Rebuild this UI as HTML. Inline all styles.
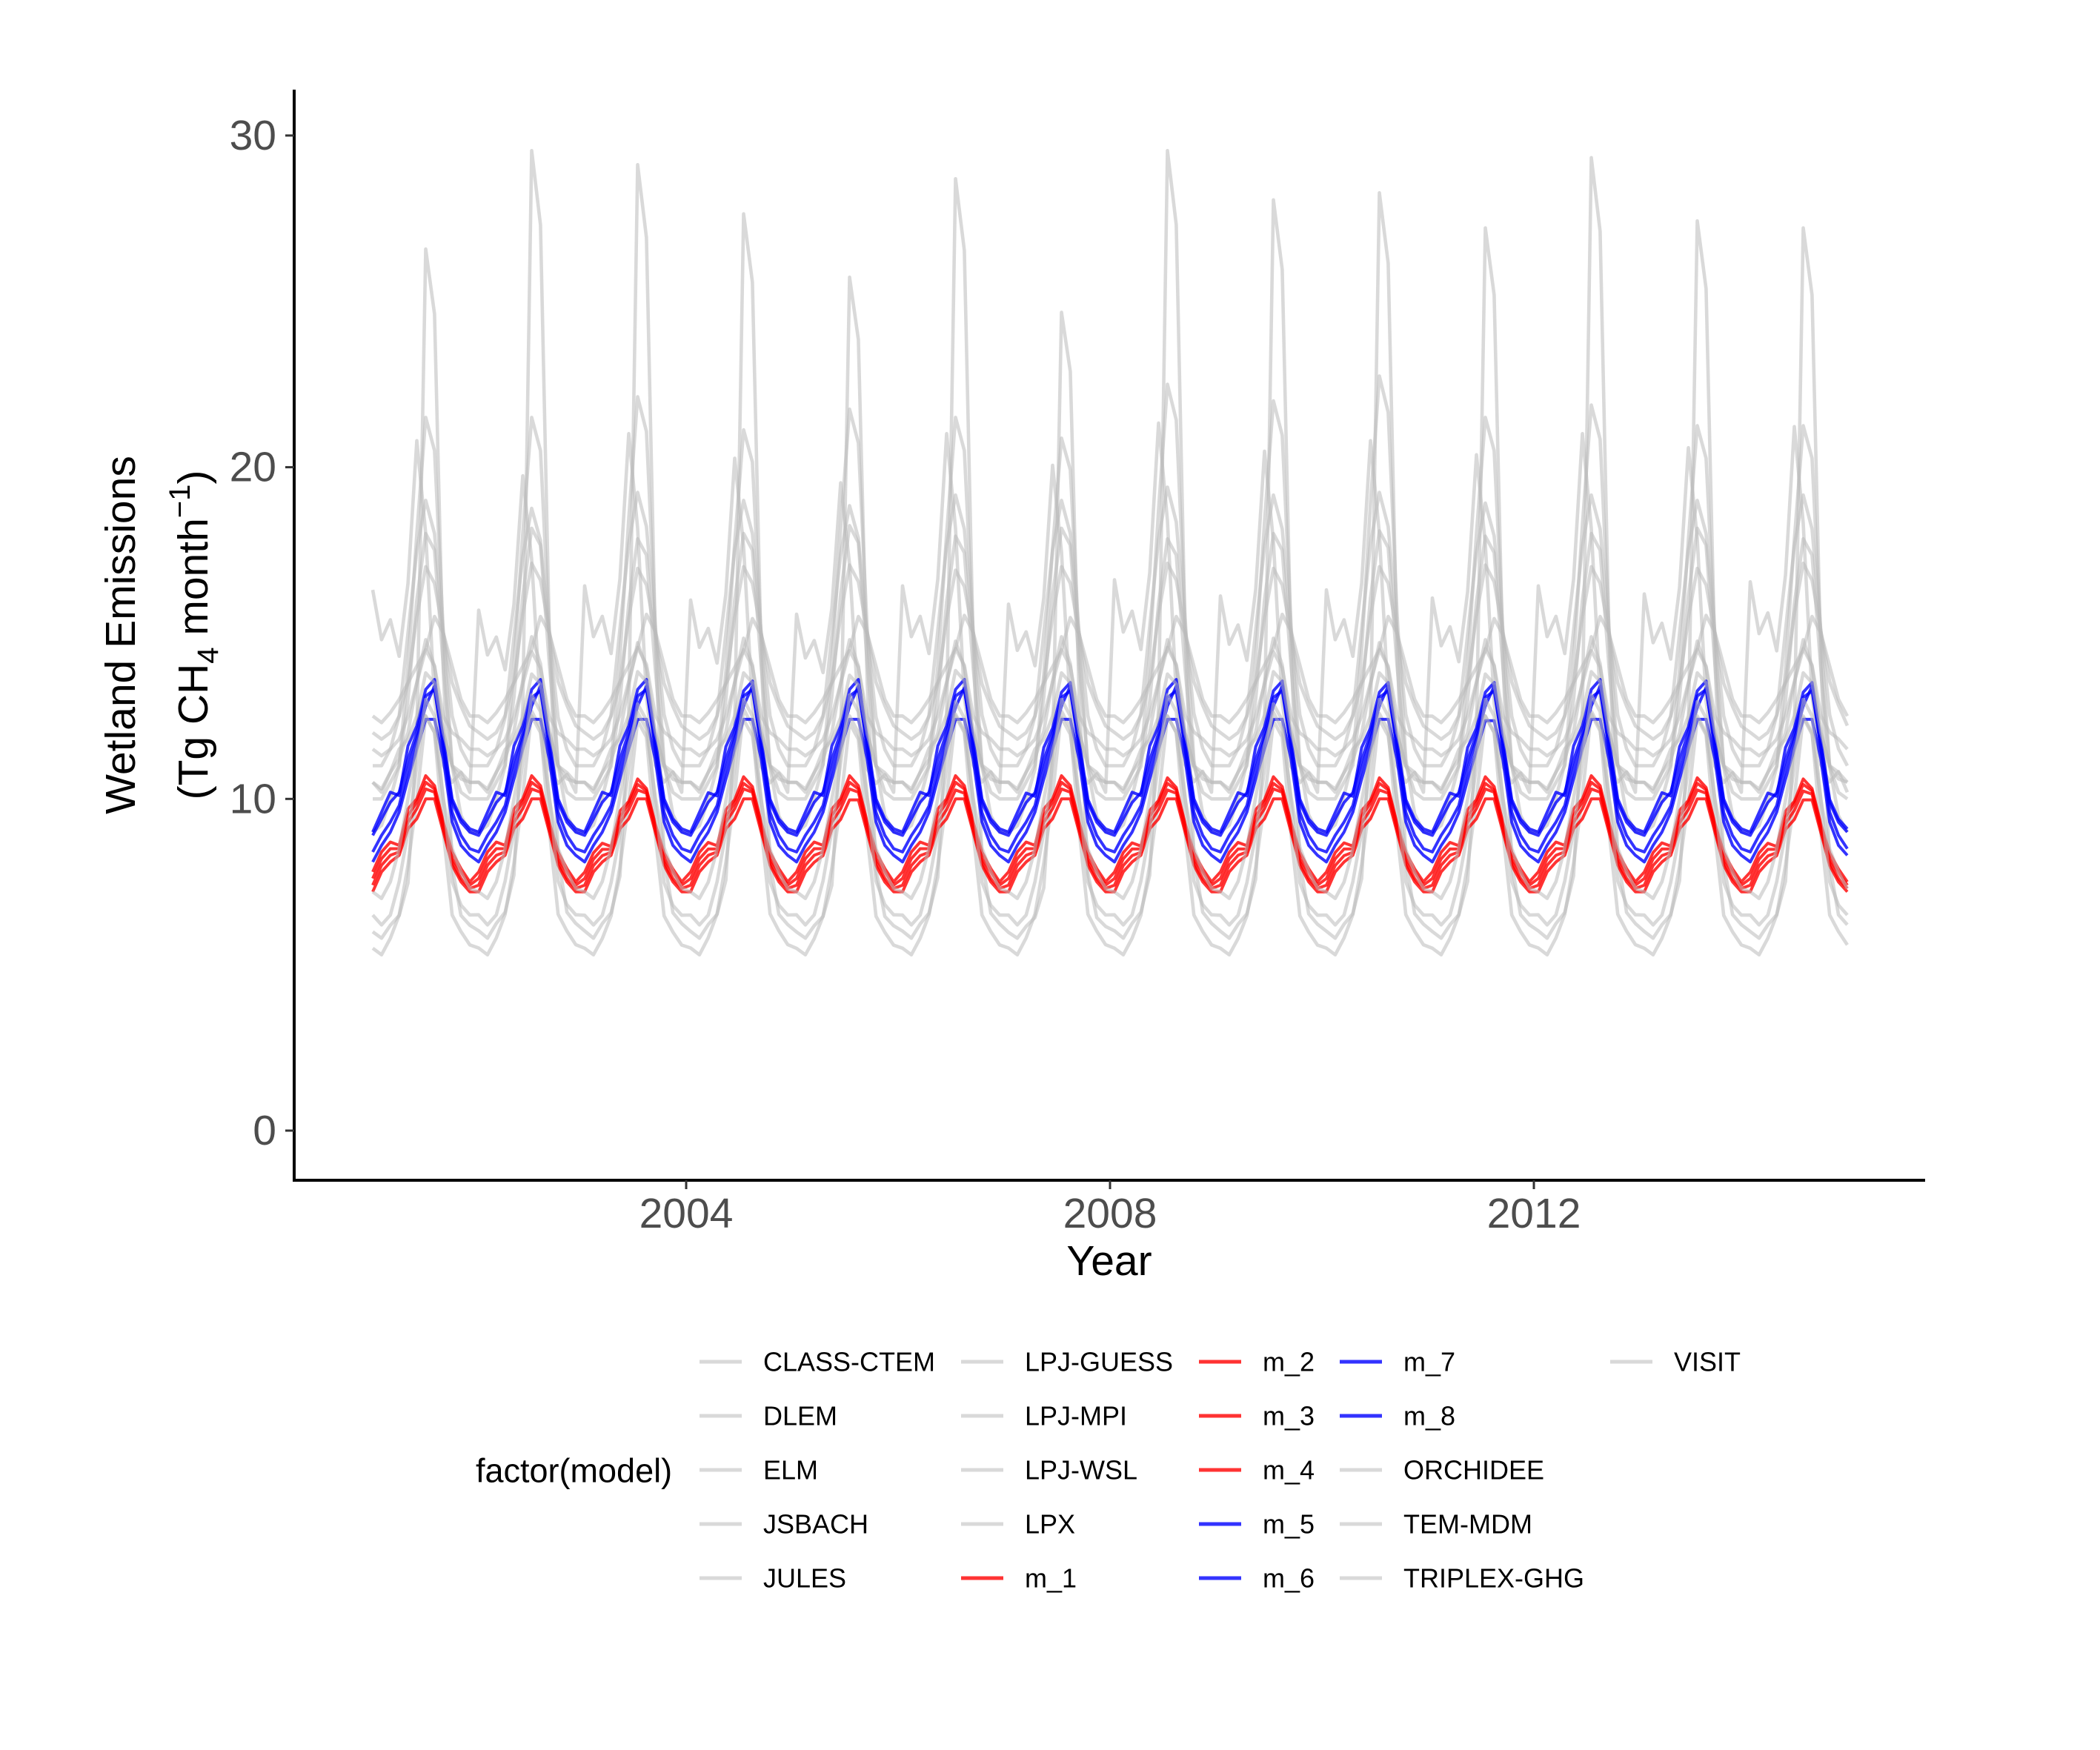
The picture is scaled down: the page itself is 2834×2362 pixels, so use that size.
<!DOCTYPE html>
<html><head><meta charset="utf-8"><style>html,body{margin:0;padding:0;background:#fff}svg{display:block}text{font-family:"Liberation Sans",Arial,sans-serif}</style></head>
<body>
<svg id="chart" width="2834" height="2362" viewBox="0 0 2834 2362" xmlns="http://www.w3.org/2000/svg">
<rect x="0" y="0" width="2834" height="2362" fill="#fff"/>
<g id="series"></g>
<g id="axes"></g>
<text x="1497" y="1721" font-size="57" text-anchor="middle" fill="#000">Year</text>
<g>
<text transform="translate(182,857) rotate(-90)" font-size="57" text-anchor="middle" fill="#000">Wetland Emissions</text>
<text transform="translate(280,857) rotate(-90)" font-size="57" text-anchor="middle" fill="#000">(Tg CH<tspan font-size="40" dy="14">4</tspan><tspan dy="-14"> month</tspan><tspan font-size="40" dy="-24">−1</tspan><tspan dy="24">)</tspan></text>
</g>
<g id="legend">
<text x="642" y="1985" font-size="45" dominant-baseline="central" fill="#000">factor(model)</text>
</g>
</svg>
<script>
const modelNames = ["CLASS-CTEM","DLEM","ELM","JSBACH","JULES","LPJ-GUESS","LPJ-MPI","LPJ-WSL","LPX","m_1","m_2","m_3","m_4","m_5","m_6","m_7","m_8","ORCHIDEE","TEM-MDM","TRIPLEX-GHG","VISIT"];
const years = [2001,2002,2003,2004,2005,2006,2007,2008,2009,2010,2011,2012,2013,2014];
const yTicks = [0,10,20,30];
const xTicks = [2004,2008,2012];
const climCLASS = [6.0,5.8,6.2,6.5,7.5,12,27,25,14,8,6.5,6.2];
const climDLEM = [16.3,14.8,15.4,14.3,16.5,20.8,18,13,11,10.5,10.8,10.2];
const climELM = [9,9.2,10,11,14,18,21.5,20.5,15,11,9.5,9];
const climJSBACH = [11,11,11.5,12.5,15,17.5,19,18,15,12.5,11.5,11];
const climJULES = [10,10,10.5,11,13,16,18,17.5,14,11,10.2,10];
const climGUESS = [12.5,12.3,12.6,13,13.5,14,14.5,15.5,15,14,13,12.5];
const climMPI = [11.5,11.3,11.5,11.8,12.5,13.5,14.5,14,12.5,12,11.8,11.5];
const climWSL = [10.5,10.3,10.8,11.2,12,13.5,14.8,14,12,11,10.6,10.5];
const climLPX = [5.5,5.3,5.8,6.5,8,10,12.5,12,9,6.5,6,5.6];
const climM1 = [7.8,8.4,8.7,8.6,9.7,10.0,10.7,10.4,9.3,8.4,7.9,7.5];
const climM2 = [7.6,8.2,8.5,8.5,9.5,9.9,10.5,10.3,9.2,8.2,7.8,7.4];
const climM3 = [7.4,8.0,8.3,8.4,9.3,9.7,10.3,10.2,9.1,8.1,7.6,7.3];
const climM4 = [7.2,7.8,8.1,8.3,9.1,9.4,10.0,10.0,9.0,8.0,7.5,7.2];
const climM5 = [9.0,9.6,10.2,10.1,11.6,12.2,13.3,13.6,11.8,10.0,9.4,9.1];
const climM6 = [8.9,9.4,9.9,10.2,11.2,12.0,13.1,13.3,11.6,9.9,9.3,9.0];
const climM7 = [8.4,8.9,9.3,9.8,10.9,11.8,12.8,13.4,11.5,9.6,8.9,8.5];
const climM8 = [8.1,8.6,9.0,9.6,10.6,11.5,12.4,12.4,11.2,9.3,8.6,8.3];
const climORCHIDEE = [6.5,6.2,6.5,7.5,9,11,13,12.5,10,7.5,6.8,6.5];
const climTEM = [10.5,10.2,10.8,11.5,11.8,12.5,13.8,13.5,12,11,10.8,10.5];
const climTRIPLEX = [7.2,7,7.5,8.5,10,11.5,12.5,12,10,8.5,7.8,7.3];
const climVISIT = [12,11.8,12,12.5,13.5,15.5,17,16.5,15,13.5,12.8,12.2];
const ampCLASS = [0.98,1.12,1.10,1.03,0.94,1.08,0.89,1.12,1.05,1.06,1.01,1.11,1.02,1.01];
const ampDLEM = [1.0,0.9,1.02,0.95,0.88,1.02,0.93,1.05,0.97,1.0,0.96,1.02,0.98,1.04];
const ampELM = [1.0,1.0,1.05,0.97,1.02,1.0,0.95,1.08,1.04,1.1,1.0,1.03,0.98,0.98];
const ampJSBACH = [1.0,0.97,1.03,1.0,0.98,1.02,1.0,1.05,1.02,1.03,0.99,1.02,1.0,1.02];
const ampJULES = [1.0,1.02,0.98,1.0,1.03,0.99,1.02,0.98,1.0,1.01,0.99,1.0,1.02,0.98];
const ampGUESS = [1.0,1.0,1.02,0.98,1.0,1.01,0.99,1.0,1.02,1.0,0.98,1.0,1.01,1.0];
const ampMPI = [1.0,0.98,1.02,1.0,0.99,1.01,1.0,1.02,0.98,1.0,1.01,0.99,1.0,1.01];
const ampWSL = [1.0,1.02,0.98,1.01,1.0,0.99,1.02,1.0,1.01,0.98,1.0,1.02,0.99,1.0];
const ampLPX = [1.0,1.02,0.98,1.03,0.97,1.0,1.02,1.0,0.98,1.01,1.0,1.02,0.99,1.0];
const ampM1 = [1.0,1.0,0.97,0.99,1.0,1.0,1.0,0.98,0.99,0.98,0.99,1.0,0.98,0.97];
const ampM2 = [1.0,1.0,0.98,0.99,1.0,1.0,1.0,0.99,0.99,0.99,0.99,1.0,0.99,0.98];
const ampM3 = [1.0,1.0,0.99,1.0,1.0,0.99,1.0,0.99,1.0,0.99,1.0,1.0,0.99,0.98];
const ampM4 = [1.0,1.0,1.0,1.0,0.99,1.0,1.0,1.0,1.0,1.0,1.0,1.0,1.0,0.99];
const ampM5 = [1.0,1.0,1.0,0.99,1.0,1.0,0.98,1.0,0.99,0.98,0.98,1.0,0.99,0.98];
const ampM6 = [1.0,0.99,1.0,1.0,1.0,1.0,0.99,0.99,0.99,0.99,0.99,0.99,1.0,0.99];
const ampM7 = [1.0,1.0,1.0,1.0,1.0,0.99,1.0,1.0,1.0,1.0,1.0,1.0,0.99,1.0];
const ampM8 = [1.0,1.0,1.0,1.0,1.0,1.0,1.0,1.0,1.0,1.0,0.99,1.0,1.0,1.0];
const ampORCHIDEE = [1.0,1.02,0.98,1.0,1.02,0.99,1.0,1.02,0.98,1.0,1.0,1.02,0.99,1.0];
const ampTEM = [1.0,0.99,1.01,1.0,0.98,1.02,1.0,0.99,1.01,1.0,0.99,1.01,1.0,1.0];
const ampTRIPLEX = [1.0,1.0,1.02,0.98,1.0,1.01,0.99,1.0,1.02,0.98,1.0,1.01,1.0,0.99];
const ampVISIT = [1.0,1.02,0.99,1.0,1.01,0.98,1.0,1.02,0.99,1.0,1.01,1.0,0.99,1.02];

const clims = [climCLASS,climDLEM,climELM,climJSBACH,climJULES,climGUESS,climMPI,climWSL,climLPX,climM1,climM2,climM3,climM4,climM5,climM6,climM7,climM8,climORCHIDEE,climTEM,climTRIPLEX,climVISIT];
const amps = [ampCLASS,ampDLEM,ampELM,ampJSBACH,ampJULES,ampGUESS,ampMPI,ampWSL,ampLPX,ampM1,ampM2,ampM3,ampM4,ampM5,ampM6,ampM7,ampM8,ampORCHIDEE,ampTEM,ampTRIPLEX,ampVISIT];

const NS = "http://www.w3.org/2000/svg";
function xScale(t){ return 926 + (t - 2004) * 143; }
function yScale(v){ return 1526 - v * 44.77; }
function colorOf(name){
  if (/^m_[1-4]$/.test(name)) return {c:"rgba(255,0,0,0.8)", w:4};
  if (/^m_[5-8]$/.test(name)) return {c:"rgba(0,0,255,0.8)", w:4};
  return {c:"rgba(185,185,185,0.55)", w:4.6};
}
const sg = document.getElementById("series");
modelNames.forEach((name, i) => {
  const clim = clims[i], amp = amps[i];
  const lo = Math.min(...clim);
  let d = "";
  years.forEach((yr, yi) => {
    for (let m = 0; m < 12; m++) {
      const v = lo + (clim[m] - lo) * amp[yi];
      const t = yr + (m + 0.5) / 12;
      d += (d ? "L" : "M") + xScale(t).toFixed(1) + "," + yScale(v).toFixed(1);
    }
  });
  const st = colorOf(name);
  const p = document.createElementNS(NS, "path");
  p.setAttribute("d", d);
  p.setAttribute("fill", "none");
  p.setAttribute("stroke", st.c);
  p.setAttribute("stroke-width", st.w);
  p.setAttribute("stroke-linejoin", "round");
  
  
  sg.appendChild(p);
});
const ag = document.getElementById("axes");
function mk(tag, attrs){ const e = document.createElementNS(NS, tag); for (const k in attrs) e.setAttribute(k, attrs[k]); return e; }
const yAxis = mk("line", {x1:397, y1:121, x2:397, y2:1595, stroke:"#000", "stroke-width":4});


ag.appendChild(yAxis);
const xAxis = mk("line", {x1:395, y1:1593, x2:2598, y2:1593, stroke:"#000", "stroke-width":4});


ag.appendChild(xAxis);
yTicks.forEach(v => {
  const y = yScale(v);
  const tk = mk("line", {x1:385, y1:y, x2:397, y2:y, stroke:"#333", "stroke-width":3});
  
  
  ag.appendChild(tk);
  const tx = mk("text", {x:373, y:y, "font-size":57, "text-anchor":"end", "dominant-baseline":"central", fill:"#4d4d4d"});
  tx.textContent = v;
  
  
  ag.appendChild(tx);
});
xTicks.forEach(v => {
  const x = xScale(v);
  const tk = mk("line", {x1:x, y1:1593, x2:x, y2:1605, stroke:"#333", "stroke-width":3});
  
  
  ag.appendChild(tk);
  const tx = mk("text", {x:x, y:1657, "font-size":57, "text-anchor":"middle", fill:"#4d4d4d"});
  tx.textContent = v;
  
  
  ag.appendChild(tx);
});
const lg = document.getElementById("legend");
const colKeyX = [944, 1297, 1618, 1808, 2173];
modelNames.forEach((name, i) => {
  const col = Math.floor(i / 5), row = i % 5;
  const y = 1838 + row * 73;
  const st = colorOf(name);
  const key = mk("line", {x1:colKeyX[col], y1:y, x2:colKeyX[col] + 57, y2:y, stroke:st.c, "stroke-width":5});
  
  
  lg.appendChild(key);
  const tx = mk("text", {x:colKeyX[col] + 86, y:y, "font-size":36, "dominant-baseline":"central", fill:"#000"});
  tx.textContent = name;
  
  
  lg.appendChild(tx);
});
</script>
</body></html>
